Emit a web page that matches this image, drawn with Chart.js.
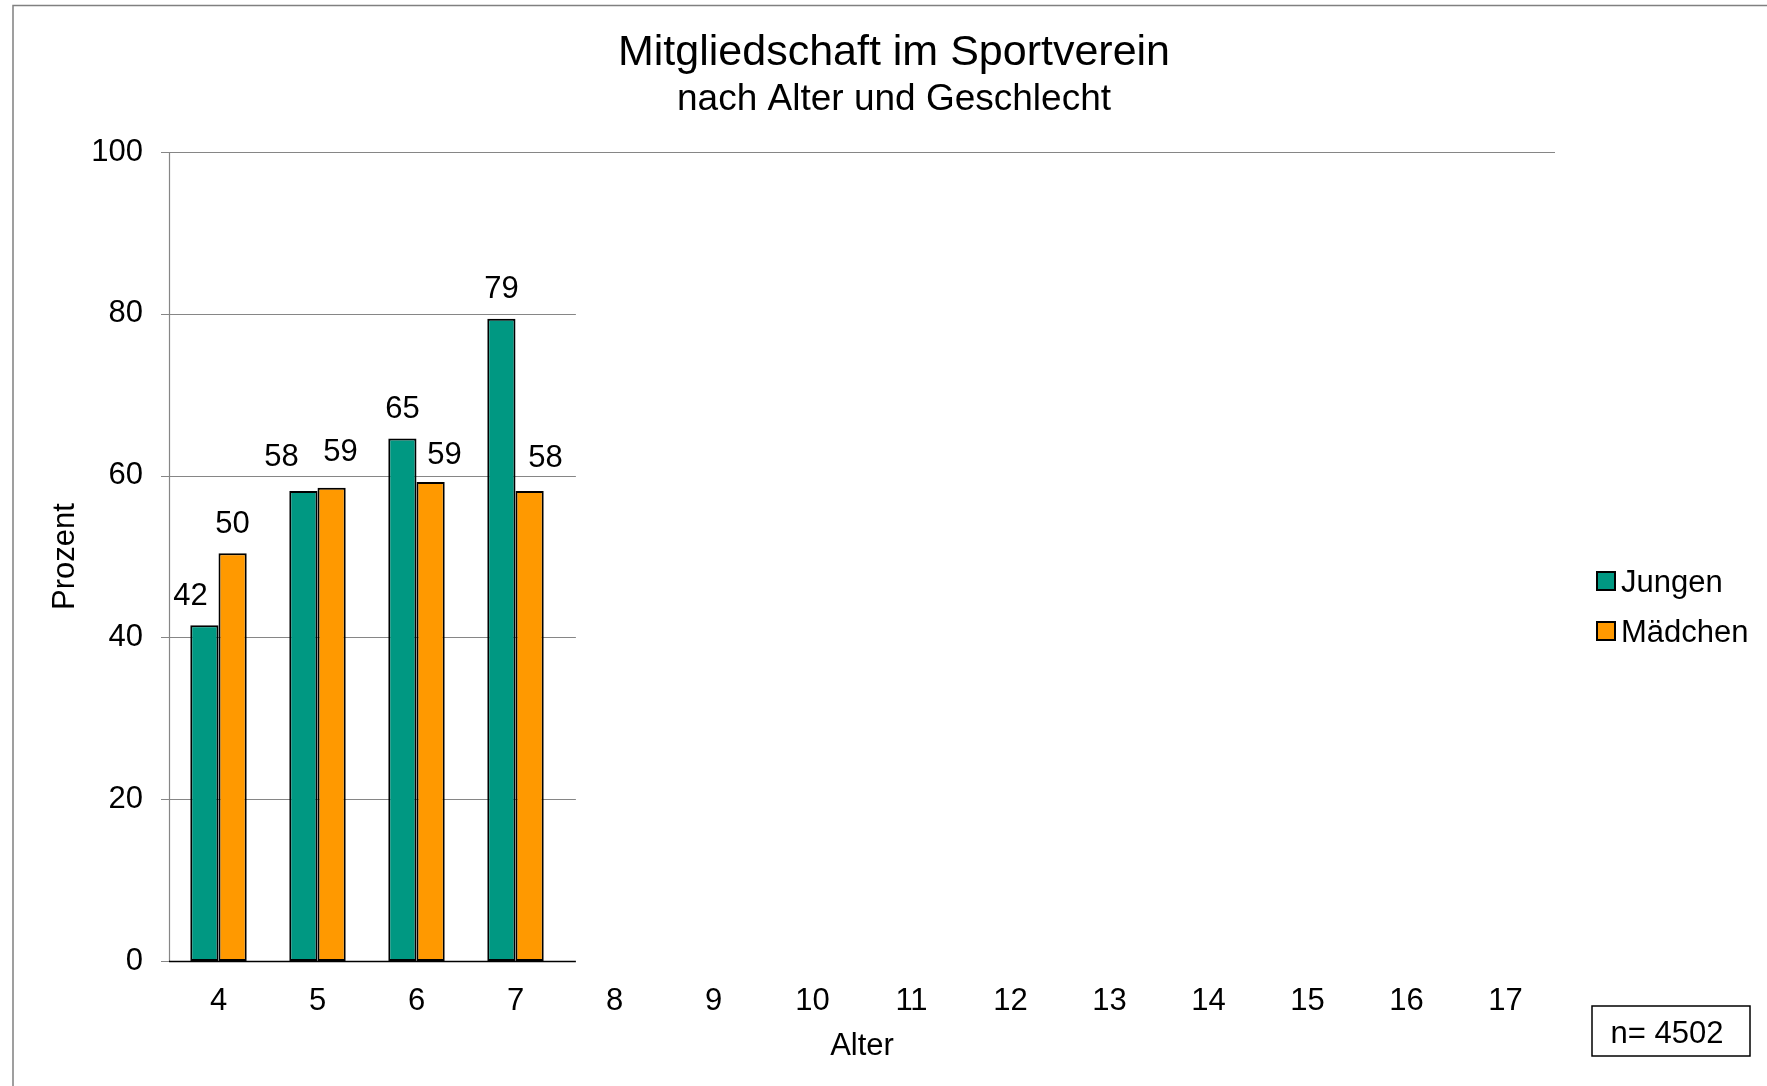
<!DOCTYPE html>
<html lang="de">
<head>
<meta charset="utf-8">
<title>Mitgliedschaft im Sportverein</title>
<script src="https://cdn.jsdelivr.net/npm/chart.js@4.4.1/dist/chart.umd.min.js"></script>
<style>
  html, body { margin: 0; padding: 0; background: #fff; }
  #wrap { position: relative; width: 1767px; height: 1086px; }
</style>
</head>
<body>
<div id="wrap"><canvas id="chart" width="1767" height="1086"></canvas></div>
<script>
// Alter der Kinder (Kategorien) und Anteil Vereinsmitglieder in Prozent
const ages = ['4', '5', '6', '7', '8', '9', '10', '11', '12', '13', '14', '15', '16', '17'];
const jungen = [41.5, 58.1, 64.6, 79.4, null, null, null, null, null, null, null, null, null, null];
const maedchen = [50.4, 58.5, 59.2, 58.1, null, null, null, null, null, null, null, null, null, null];
const yTicks = [0, 20, 40, 60, 80, 100];
const sampleSize = 4502;

const FONT = "'Liberation Sans', Arial, sans-serif";

// Rahmen, Gitterlinien und Achsenlinien im Stil der Vorlage
const gridPlugin = {
    id: 'gridPlugin',
    beforeDraw(chart) {
        const ctx = chart.ctx;
        ctx.save();
        ctx.fillStyle = '#fff';
        ctx.fillRect(0, 0, chart.width, chart.height);
        ctx.strokeStyle = '#808080';
        ctx.lineWidth = 1.5;
        ctx.beginPath();
        ctx.moveTo(13, chart.height);
        ctx.lineTo(13, 5.5);
        ctx.lineTo(chart.width, 5.5);
        ctx.stroke();
        ctx.restore();
    },
    beforeDatasetsDraw(chart, args, opts) {
        const { ctx, chartArea: area, scales: { x, y } } = chart;
        const catWidth = (area.right - area.left) / ages.length;
        const gridEnd = x.getPixelForValue(opts.lastCategory) + opts.overhang * catWidth;
        ctx.save();
        ctx.lineWidth = 1.2;
        ctx.strokeStyle = '#868686';
        yTicks.forEach(v => {
            if (v === 0) return;
            const py = Math.round(y.getPixelForValue(v)) + 0.5;
            ctx.beginPath();
            ctx.moveTo(area.left - 8, py);
            ctx.lineTo(v === 100 ? area.right : gridEnd, py);
            ctx.stroke();
        });
        // y-Achse
        ctx.beginPath();
        ctx.moveTo(area.left + 0.5, area.top);
        ctx.lineTo(area.left + 0.5, area.bottom);
        ctx.moveTo(area.left - 8, area.bottom + 0.5);
        ctx.lineTo(area.left, area.bottom + 0.5);
        ctx.stroke();
        ctx.restore();
    },
    afterDatasetsDraw(chart, args, opts) {
        const { ctx, chartArea: area, scales: { x } } = chart;
        const catWidth = (area.right - area.left) / ages.length;
        const gridEnd = x.getPixelForValue(opts.lastCategory) + opts.overhang * catWidth;
        ctx.save();
        ctx.strokeStyle = '#000';
        ctx.lineWidth = 1.5;
        ctx.beginPath();
        ctx.moveTo(area.left, area.bottom + 0.5);
        ctx.lineTo(gridEnd, area.bottom + 0.5);
        ctx.stroke();
        ctx.restore();
    }
};

// Werte über den Balken
const valueLabels = {
    id: 'valueLabels',
    afterDatasetsDraw(chart, args, opts) {
        const ctx = chart.ctx;
        ctx.save();
        ctx.font = '31px ' + FONT;
        ctx.fillStyle = '#000';
        ctx.textAlign = 'center';
        ctx.textBaseline = 'middle';
        chart.data.datasets.forEach((ds, di) => {
            const meta = chart.getDatasetMeta(di);
            const nudge = opts.nudge[di] || [];
            meta.data.forEach((bar, i) => {
                const v = ds.data[i];
                if (v === null || v === undefined) return;
                const n = nudge[i] || [0, 0];
                ctx.fillText(String(Math.round(v)), bar.x + n[0], bar.y - opts.gap + n[1]);
            });
        });
        ctx.restore();
    }
};

// Überschrift, Legende und Stichprobenbox
const decorations = {
    id: 'decorations',
    afterDraw(chart) {
        const ctx = chart.ctx;
        ctx.save();
        ctx.fillStyle = '#000';
        ctx.textAlign = 'center';
        ctx.textBaseline = 'alphabetic';
        ctx.font = '43px ' + FONT;
        ctx.fillText('Mitgliedschaft im Sportverein', 894, 65);
        ctx.font = '37px ' + FONT;
        ctx.fillText('nach Alter und Geschlecht', 894, 110);

        // Legende
        ctx.textAlign = 'left';
        ctx.font = '31px ' + FONT;
        chart.data.datasets.forEach((ds, i) => {
            const base = 592 + i * 50;
            ctx.fillStyle = ds.backgroundColor;
            ctx.fillRect(1597, base - 20, 18, 18);
            ctx.strokeStyle = '#000';
            ctx.lineWidth = 2;
            ctx.strokeRect(1597, base - 20, 18, 18);
            ctx.fillStyle = '#000';
            ctx.fillText(ds.label, 1621, base);
        });

        // n-Box
        ctx.strokeStyle = '#000';
        ctx.lineWidth = 1.5;
        ctx.strokeRect(1592, 1006, 158, 50);
        ctx.textAlign = 'center';
        ctx.fillText('n= ' + sampleSize, 1667, 1043);
        ctx.restore();
    }
};

const ctx = document.getElementById('chart').getContext('2d');
new Chart(ctx, {
    type: 'bar',
    data: {
        labels: ages,
        datasets: [
            {
                label: 'Jungen',
                data: jungen,
                backgroundColor: '#009882',
                borderColor: '#000',
                borderWidth: 2,
                borderSkipped: false
            },
            {
                label: 'Mädchen',
                data: maedchen,
                backgroundColor: '#ff9900',
                borderColor: '#000',
                borderWidth: 2,
                borderSkipped: false
            }
        ]
    },
    options: {
        responsive: false,
        animation: false,
        devicePixelRatio: 1,
        categoryPercentage: 0.57,
        barPercentage: 1.0,
        layout: { padding: { left: 40, top: 152, right: 212, bottom: 20 } },
        scales: {
            x: {
                grid: { display: false, drawTicks: false },
                border: { display: false },
                ticks: {
                    color: '#000',
                    font: { family: FONT, size: 31 },
                    padding: 22,
                    maxRotation: 0,
                    autoSkip: false
                },
                title: {
                    display: true,
                    text: 'Alter',
                    color: '#000',
                    font: { family: FONT, size: 31 },
                    padding: { top: 0, bottom: 1 }
                },
                afterFit(scale) { scale.height = 105; }
            },
            y: {
                min: 0,
                max: 100,
                grid: { display: false, drawTicks: false },
                border: { display: false },
                ticks: {
                    stepSize: 20,
                    color: '#000',
                    font: { family: FONT, size: 31 },
                    padding: 26
                },
                title: {
                    display: true,
                    text: 'Prozent',
                    color: '#000',
                    font: { family: FONT, size: 31 },
                    padding: { top: 7, bottom: 0 }
                },
                afterFit(scale) { scale.width = 129; }
            }
        },
        plugins: {
            legend: { display: false },
            title: { display: false },
            tooltip: { enabled: false },
            gridPlugin: { lastCategory: 3, overhang: 0.61 },
            valueLabels: {
                gap: 29,
                nudge: [
                    [[-14, 0], [-22, -5], [0, 0], [0, 0]],
                    [[0, 0], [9, -6], [14, 2], [16, -4]]
                ]
            }
        }
    },
    plugins: [gridPlugin, valueLabels, decorations]
});
</script>
</body>
</html>
